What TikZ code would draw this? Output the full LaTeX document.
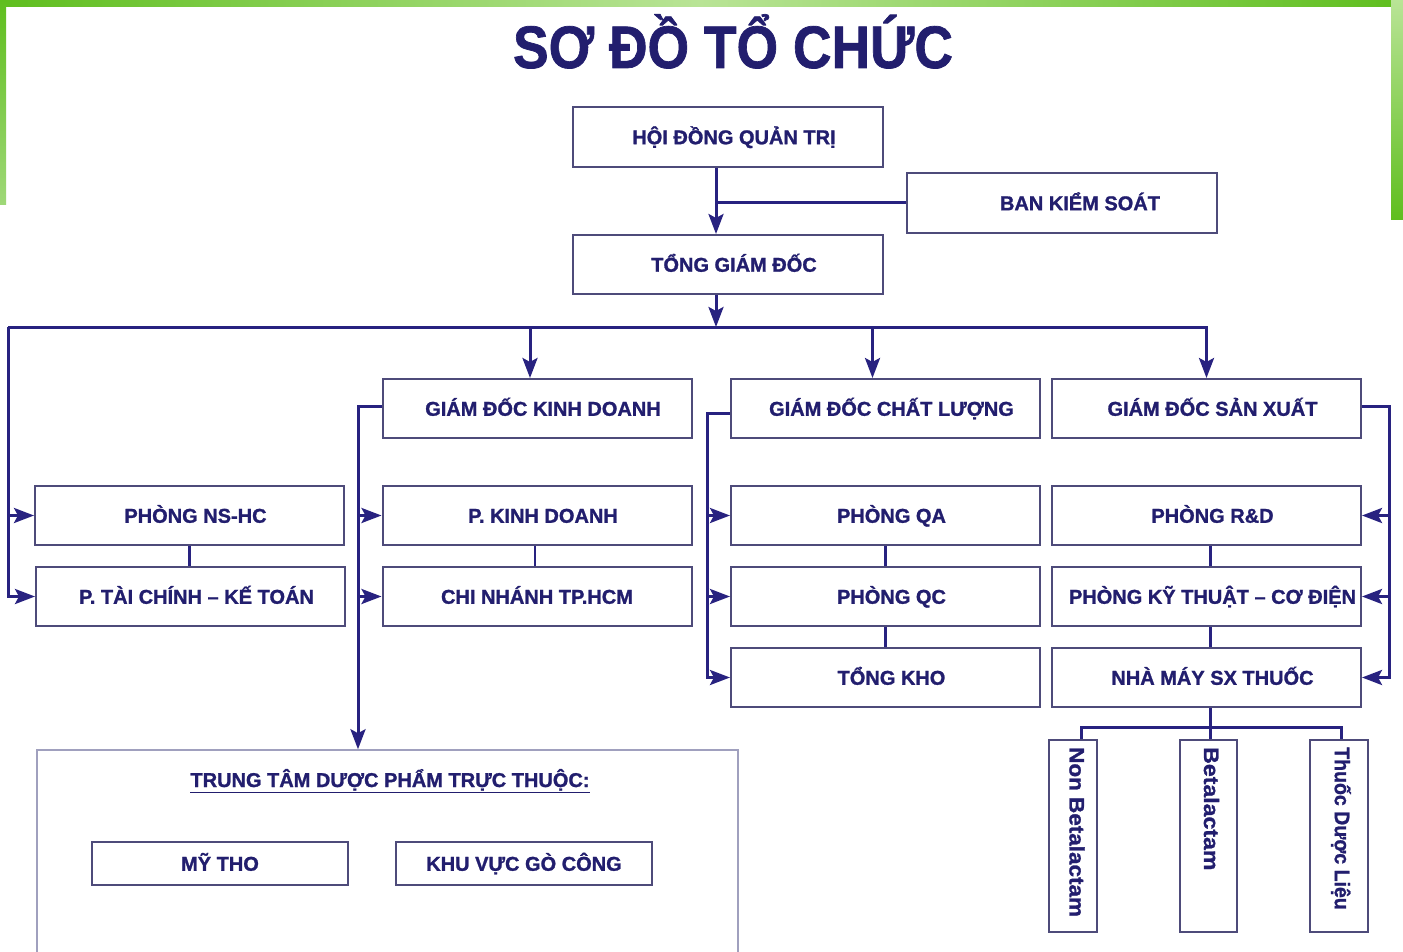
\documentclass[tikz,border=0pt]{standalone}
\usepackage{fontspec}
\setmainfont{Liberation Sans}[BoldFeatures={FakeBold=1.2}]
\usetikzlibrary{arrows.meta,calc}
\definecolor{txt}{RGB}{34,30,110}
\definecolor{connc}{RGB}{40,34,128}
\definecolor{boxc}{RGB}{78,75,122}
\definecolor{ttc}{RGB}{160,160,190}
\definecolor{gdark}{RGB}{95,190,30}
\definecolor{glight}{RGB}{185,228,150}
\tikzset{
  plainbox/.style={draw=boxc, line width=2pt, fill=white, minimum width=309pt, minimum height=59pt,
    inner sep=0pt, text height=14.5pt, text depth=0pt, text=txt,
    font=\fontsize{20}{20}\selectfont\bfseries},
  box/.style={plainbox, execute at begin node={\hspace*{12pt}}},
  smallbox/.style={plainbox, minimum width=256pt, minimum height=43pt},
  vbox/.style={draw=boxc, line width=2pt, fill=white, inner sep=0pt},
  vtext/.style={rotate=-90, anchor=west, inner sep=0pt, text=txt,
    font=\fontsize{21}{21}\selectfont\bfseries},
  conn/.style={draw=connc, line width=3pt},
  arr/.style={conn, -{Stealth[length=20pt,width=15pt,inset=4pt]}},
}
\begin{document}
\begin{tikzpicture}[x=1pt,y=-1pt]
\useasboundingbox (0,0) rectangle (1403,952);
\clip (0,0) rectangle (1403,952);
\fill[white] (0,0) rectangle (1403,952);
% green frame
\shade[left color=gdark, right color=glight] (0,0) rectangle (700,7);
\shade[left color=glight, right color=gdark] (700,0) rectangle (1403,7);
\shade[top color=gdark, bottom color=gdark!60] (0,0) rectangle (6,205);
\shade[top color=glight, bottom color=gdark] (1391,0) rectangle (1403,220);

% title
\node[anchor=base, text=txt, font=\fontsize{60}{60}\selectfont\bfseries, inner sep=0pt] (title) at (733,68) {\scalebox{0.89}[1]{SƠ ĐỒ TỔ CHỨC}};

% boxes
\node[box, minimum width=310pt, minimum height=60pt] (hdqt) at (728,137) {HỘI ĐỒNG QUẢN TRỊ};
\node[box, minimum width=310pt, minimum height=60pt, execute at begin node={\hspace*{24pt}}] (bks) at (1062,203) {BAN KIỂM SOÁT};
\node[box, minimum width=310pt] (tgd) at (728,264.5) {TỔNG GIÁM ĐỐC};

\node[box] (gdkd) at (537,408.5) {GIÁM ĐỐC KINH DOANH};
\node[box] (gdcl) at (885.5,408.5) {GIÁM ĐỐC CHẤT LƯỢNG};
\node[box] (gdsx) at (1206.5,408.5) {GIÁM ĐỐC SẢN XUẤT};

\node[box] (nshc) at (189.5,515.5) {PHÒNG NS-HC};
\node[box] (pkd) at (537,515.5) {P. KINH DOANH};
\node[box] (qa) at (885.5,515.5) {PHÒNG QA};
\node[box] (rd) at (1206.5,515.5) {PHÒNG R\&D};

\node[box] (tckt) at (190.5,596.5) {P. TÀI CHÍNH – KẾ TOÁN};
\node[plainbox] (cn) at (537,596.5) {CHI NHÁNH TP.HCM};
\node[box] (qc) at (885.5,596.5) {PHÒNG QC};
\node[box] (ktcd) at (1206.5,596.5) {PHÒNG KỸ THUẬT – CƠ ĐIỆN};

\node[box] (kho) at (885.5,677.5) {TỔNG KHO};
\node[box] (nm) at (1206.5,677.5) {NHÀ MÁY SX THUỐC};

% vertical boxes
\node[vbox, minimum width=48pt, minimum height=192pt] (nb) at (1073,836) {};
\node[vbox, minimum width=57pt, minimum height=192pt] (bl) at (1208.5,836) {};
\node[vbox, minimum width=58pt, minimum height=192pt] (td) at (1339,836) {};
\coordinate (nbtp) at ($(nb.north)+(4,8)$);
\coordinate (bltp) at ($(bl.north)+(3,8)$);
\coordinate (tdtp) at ($(td.north)+(2,8)$);
\node[vtext] (nbt) at (nbtp) {\scalebox{1.07}[1]{Non Betalactam}};
\node[vtext] (blt) at (bltp) {\scalebox{1.1}[1]{Betalactam}};
\node[vtext] (tdt) at (tdtp) {\scalebox{0.93}[1]{Thuốc Dược Liệu}};

% Trung tam
\node[draw=ttc, line width=1.5pt, fill=white, minimum width=701pt, minimum height=230pt, inner sep=0pt] (tt) at (387.5,865) {};
\node[anchor=base, text=txt, font=\fontsize{20}{20}\selectfont\bfseries, inner sep=0pt] (tttitle) at (390,787) {\underline{TRUNG TÂM DƯỢC PHẨM TRỰC THUỘC:}};
\node[smallbox] (mytho) at (220,863.5) {MỸ THO};
\node[smallbox] (gocong) at (524,863.5) {KHU VỰC GÒ CÔNG};

% helper coordinates
\coordinate (busL) at (8,327);
\coordinate (trunk) at ($(hdqt.south)+(-12,0)$);
\coordinate (trunkT) at (trunk |- tgd.north);
\coordinate (tgdo) at ($(tgd.south)+(-12,0)$);
\coordinate (tgdb) at (tgdo |- busL);
\coordinate (kdt) at ($(gdkd.north)+(-7,0)$);
\coordinate (kdb) at (kdt |- busL);
\coordinate (clt) at ($(gdcl.north)+(-13,0)$);
\coordinate (clb) at (clt |- busL);
\coordinate (sxb) at (gdsx.north |- busL);

% connectors top
\draw[conn] (bks.west) -- (bks.west -| trunk);
\draw[arr] (trunk) -- (trunkT);
\draw[arr] (tgdo) -- (tgdb);
\draw[arr] (busL) -- (sxb) -- (gdsx.north);
\draw[arr] (kdb) -- (kdt);
\draw[arr] (clb) -- (clt);
\draw[arr] (busL) -- (tckt.west -| busL) -- (tckt.west);
\draw[arr] (nshc.west -| busL) -- (nshc.west);

% GD kinh doanh
\coordinate (kdx) at (358,0);
\coordinate (kdw) at ($(gdkd.west)+(0,-2)$);
\coordinate (kdw2) at (kdw -| kdx);
\coordinate (kdbot) at (tt.north -| kdx);
\draw[arr] (kdw) -- (kdw2) -- (kdbot);
\draw[arr] (pkd.west -| kdx) -- (pkd.west);
\draw[arr] (cn.west -| kdx) -- (cn.west);

% GD chat luong
\coordinate (clx) at (707,0);
\coordinate (clw) at ($(gdcl.west)+(0,5)$);
\coordinate (clw2) at (clw -| clx);
\coordinate (clbot) at (kho.west -| clx);
\draw[arr] (clw) -- (clw2) -- (clbot) -- (kho.west);
\draw[arr] (qa.west -| clx) -- (qa.west);
\draw[arr] (qc.west -| clx) -- (qc.west);

% GD san xuat
\coordinate (sxx) at (1389,0);
\coordinate (sxe) at ($(gdsx.east)+(0,-2)$);
\coordinate (sxe2) at (sxe -| sxx);
\coordinate (sxbot) at (nm.east -| sxx);
\draw[arr] (sxe) -- (sxe2) -- (sxbot) -- (nm.east);
\draw[arr] (rd.east -| sxx) -- (rd.east);
\draw[arr] (ktcd.east -| sxx) -- (ktcd.east);

% stacked links
\coordinate (l1a) at (nshc.south);
\coordinate (l1b) at (l1a |- tckt.north);
\draw[conn, line width=2.5pt] (l1a) -- (l1b);
\coordinate (l2a) at ($(pkd.south)+(-2,0)$);
\coordinate (l2b) at (l2a |- cn.north);
\draw[conn, line width=2.5pt] (l2a) -- (l2b);
\draw[conn, line width=2.5pt] (qa.south) -- (qc.north);
\draw[conn, line width=2.5pt] (qc.south) -- (kho.north);
\coordinate (l3a) at ($(rd.south)+(4,0)$);
\coordinate (l3b) at (l3a |- ktcd.north);
\coordinate (l3c) at (l3a |- ktcd.south);
\coordinate (l3d) at (l3a |- nm.north);
\draw[conn, line width=2.5pt] (l3a) -- (l3b);
\draw[conn, line width=2.5pt] (l3c) -- (l3d);

% factory branches
\coordinate (nmbus) at (0,727);
\coordinate (nmo) at ($(nm.south)+(4,0)$);
\coordinate (nmb) at (nmo |- bl.north);
\coordinate (nbt0) at ($(nb.north)+(8,0)$);
\coordinate (nbt1) at (nbt0 |- nmbus);
\coordinate (tdt0) at ($(td.north)+(2,0)$);
\coordinate (tdt1) at (tdt0 |- nmbus);
\draw[conn] (nmo) -- (nmb);
\draw[conn] (nbt0) -- (nbt1) -- (tdt1) -- (tdt0);
\end{tikzpicture}
\end{document}
